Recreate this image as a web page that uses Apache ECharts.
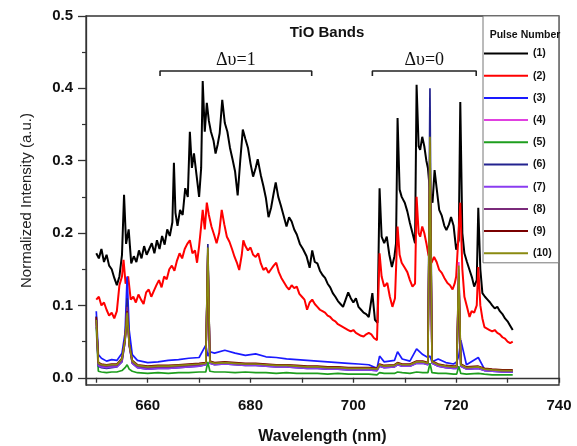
<!DOCTYPE html>
<html>
<head>
<meta charset="utf-8">
<script src="https://cdn.jsdelivr.net/npm/echarts@6/dist/echarts.min.js"></script>
<style>
  html, body { margin: 0; padding: 0; background: #ffffff; }
  #chart { width: 577px; height: 446px; }
</style>
</head>
<body>
<div id="chart"></div>
<script>
// Emission spectra of the TiO band region, normalized, for successive laser pulses.

const pulseNames = ['(1)', '(2)', '(3)', '(4)', '(5)', '(6)', '(7)', '(8)', '(9)', '(10)'];
const pulseColors = ['#000000', '#ff0000', '#1a1aff', '#e040e0', '#1e9e1e',
                     '#23238f', '#8a3cf0', '#7a2a7a', '#7a0000', '#8a8a10'];

// Pulse (1): [wavelength nm, intensity]
const pulse1 = [
  [650,0.172],[650.5,0.165],[651,0.178],[651.5,0.160],[652,0.170],[652.5,0.155],[653,0.150],
  [653.5,0.138],[654,0.128],[654.5,0.140],[655,0.170],[655.4,0.253],[655.8,0.185],[656.3,0.205],
  [656.8,0.158],[657.3,0.168],[657.8,0.160],[658.3,0.176],[658.8,0.165],[659.3,0.182],[659.8,0.170],
  [660.3,0.178],[660.8,0.186],[661.3,0.172],[661.8,0.190],[662.3,0.178],[662.8,0.196],[663.3,0.184],
  [663.8,0.205],[664.3,0.196],[664.8,0.215],[665.1,0.297],[665.4,0.228],[665.8,0.210],[666.3,0.232],
  [666.8,0.225],[667.3,0.262],[667.8,0.250],[668.2,0.340],[668.6,0.290],[669.0,0.310],[669.5,0.280],
  [670.0,0.250],[670.4,0.290],[670.7,0.410],[671.1,0.340],[671.5,0.380],[671.9,0.355],[672.3,0.340],
  [672.8,0.328],[673.2,0.310],[673.6,0.322],[674.0,0.338],[674.5,0.384],[675.0,0.352],[675.5,0.340],
  [676.0,0.318],[676.5,0.302],[677.0,0.285],[677.5,0.252],[678.0,0.300],[678.5,0.343],[679.0,0.330],
  [679.5,0.318],[680.0,0.296],[680.5,0.278],[681.0,0.290],[681.4,0.302],[682.0,0.280],[682.5,0.265],
  [683.0,0.248],[683.5,0.222],[684.0,0.235],[684.5,0.255],[684.9,0.270],[685.4,0.250],[685.9,0.238],
  [686.4,0.225],[687.0,0.209],[687.5,0.222],[688.0,0.216],[688.5,0.205],[689.0,0.198],[689.6,0.185],
  [690.2,0.178],[690.9,0.168],[691.5,0.152],[692.0,0.176],[692.5,0.160],[693.0,0.158],[693.5,0.148],
  [694.0,0.142],[694.5,0.138],[695.0,0.130],[695.5,0.125],[696.0,0.117],[696.5,0.112],[697.0,0.106],
  [697.5,0.102],[698.0,0.098],[698.5,0.108],[699.0,0.118],[699.5,0.110],[700.0,0.104],[700.5,0.110],
  [701.0,0.098],[701.5,0.094],[702.0,0.090],[702.5,0.088],[703.0,0.084],[703.7,0.117],[704.2,0.080],
  [704.7,0.076],[705.1,0.262],[705.5,0.195],[706.0,0.186],[706.5,0.195],[707.0,0.170],[707.5,0.153],
  [708.0,0.168],[708.3,0.186],[708.6,0.359],[709.0,0.260],[709.4,0.250],[710.0,0.242],[710.5,0.230],
  [711.0,0.214],[711.5,0.200],[712.0,0.186],[712.3,0.405],[712.7,0.320],[713.0,0.315],[713.4,0.333],
  [713.8,0.320],[714.2,0.300],[714.5,0.290],[715.0,0.250],[715.4,0.242],[715.8,0.287],[716.2,0.262],
  [716.7,0.232],[717.2,0.224],[717.7,0.210],[718.1,0.204],[718.6,0.212],[719.0,0.222],[719.5,0.210],
  [720.0,0.177],[720.5,0.190],[720.8,0.381],[721.2,0.200],[721.6,0.172],[722.1,0.160],[722.6,0.149],
  [723.1,0.138],[723.5,0.126],[724.0,0.135],[724.3,0.235],[724.7,0.150],[725.1,0.117],[725.6,0.112],
  [726.1,0.108],[726.6,0.104],[727.0,0.100],[727.5,0.096],[728.0,0.098],[728.5,0.092],[729.0,0.088],
  [729.5,0.082],[730.0,0.078],[730.5,0.072],[731.0,0.066]
];

// Pulse (2): [wavelength nm, intensity]
const pulse2 = [
  [650,0.108],[650.5,0.112],[651,0.100],[651.5,0.104],[652,0.094],[652.5,0.086],[653,0.090],
  [653.5,0.082],[654,0.092],[654.5,0.128],[655.0,0.140],[655.3,0.163],[655.7,0.130],[656.2,0.140],
  [656.7,0.108],[657.2,0.112],[657.7,0.104],[658.2,0.115],[658.7,0.108],[659.2,0.102],[659.7,0.118],
  [660.2,0.122],[660.7,0.112],[661.2,0.120],[661.7,0.128],[662.2,0.135],[662.7,0.125],[663.2,0.140],
  [663.7,0.136],[664.2,0.150],[664.7,0.155],[665.2,0.148],[665.7,0.162],[666.2,0.172],[666.7,0.165],
  [667.2,0.178],[667.7,0.185],[668.2,0.190],[668.7,0.172],[669.2,0.176],[669.6,0.159],[670.0,0.182],
  [670.4,0.210],[670.7,0.232],[671.1,0.205],[671.5,0.242],[671.9,0.225],[672.4,0.209],[672.9,0.198],
  [673.4,0.186],[673.9,0.200],[674.4,0.232],[674.9,0.212],[675.4,0.195],[675.9,0.188],[676.4,0.178],
  [676.9,0.167],[677.4,0.158],[677.8,0.149],[678.3,0.170],[678.6,0.190],[679.0,0.182],[679.5,0.176],
  [680.0,0.180],[680.5,0.170],[681.0,0.167],[681.5,0.172],[682.0,0.158],[682.5,0.149],[683.0,0.152],
  [683.5,0.145],[684.0,0.150],[684.5,0.155],[685.0,0.159],[685.5,0.146],[686.0,0.138],[686.5,0.132],
  [687.0,0.126],[687.5,0.122],[688.0,0.128],[688.5,0.124],[689.0,0.126],[689.5,0.116],[690.0,0.112],
  [690.5,0.108],[691.0,0.094],[691.5,0.104],[692.0,0.108],[692.5,0.102],[693.0,0.098],[693.5,0.094],
  [694.0,0.092],[694.5,0.090],[695.0,0.086],[695.5,0.084],[696.0,0.080],[696.5,0.078],[697.0,0.074],
  [697.5,0.072],[698.0,0.070],[698.5,0.068],[699.0,0.066],[699.5,0.064],[700.0,0.066],[700.5,0.062],
  [701.0,0.060],[701.5,0.058],[702.0,0.057],[702.5,0.060],[703.0,0.062],[703.5,0.060],[704.0,0.055],
  [704.6,0.052],[705.1,0.172],[705.5,0.140],[706.0,0.126],[706.6,0.131],[707.1,0.112],[707.6,0.098],
  [708.1,0.110],[708.6,0.209],[709.0,0.170],[709.4,0.159],[710.0,0.152],[710.5,0.146],[711.0,0.135],
  [711.5,0.126],[712.0,0.130],[712.3,0.250],[712.7,0.200],[713.0,0.195],[713.4,0.209],[713.8,0.200],
  [714.2,0.186],[714.6,0.170],[715.2,0.159],[715.7,0.167],[716.2,0.160],[716.7,0.149],[717.2,0.145],
  [717.7,0.138],[718.3,0.131],[718.8,0.128],[719.3,0.122],[719.7,0.130],[720.0,0.140],[720.8,0.242],
  [721.2,0.150],[721.6,0.112],[722.1,0.098],[722.6,0.084],[723.0,0.092],[723.5,0.090],[724.0,0.100],
  [724.3,0.153],[724.7,0.100],[725.1,0.082],[725.5,0.070],[726.0,0.068],[726.5,0.066],[727.0,0.064],
  [727.5,0.066],[728.0,0.062],[728.5,0.060],[729.0,0.056],[729.5,0.054],[730.0,0.050],[730.5,0.048],
  [731.0,0.050]
];

// Shared wavelength grid (nm) for the weaker pulses (3)-(10)
const lowWl = [650,650.4,651,652,653,654,655,655.6,656.0,656.4,657,658,660,662,664,666,668,670,
  671.3,671.7,672.1,673,675,677,679,681,683,685,687,689,691,693,695,697,699,701,703,704.6,705.1,
  706,708,708.6,709.5,711,712.3,713.5,714.5,714.9,715.3,716.5,718,719.5,720.1,720.5,720.9,722,
  724.3,725.5,727,729,731];

const pulse3 = [0.092,0.032,0.027,0.023,0.025,0.024,0.034,0.062,0.140,0.066,0.032,0.024,0.021,0.022,
  0.024,0.025,0.027,0.028,0.045,0.030,0.036,0.034,0.038,0.034,0.031,0.033,0.029,0.028,0.026,0.025,
  0.024,0.023,0.022,0.021,0.020,0.019,0.018,0.013,0.030,0.022,0.024,0.036,0.026,0.023,0.040,0.032,
  0.028,0.030,0.022,0.026,0.021,0.019,0.022,0.030,0.052,0.018,0.028,0.012,0.010,0.009,0.008];
const pulse4 = [0.080,0.018,0.016,0.015,0.016,0.016,0.024,0.052,0.100,0.045,0.021,0.015,0.013,0.014,
  0.014,0.015,0.016,0.017,0.019,0.165,0.021,0.019,0.020,0.019,0.018,0.018,0.017,0.016,0.016,0.015,
  0.014,0.014,0.013,0.013,0.012,0.012,0.012,0.011,0.017,0.015,0.016,0.019,0.017,0.017,0.021,0.021,
  0.019,0.300,0.021,0.017,0.015,0.014,0.014,0.160,0.017,0.013,0.014,0.011,0.010,0.009,0.009];
const pulse5 = [0.070,0.009,0.008,0.007,0.008,0.008,0.010,0.014,0.018,0.012,0.009,0.007,0.006,0.007,
  0.006,0.007,0.007,0.008,0.008,0.022,0.009,0.008,0.008,0.007,0.008,0.007,0.007,0.006,0.007,0.006,
  0.006,0.006,0.005,0.006,0.005,0.005,0.005,0.004,0.007,0.006,0.006,0.008,0.007,0.006,0.008,0.007,
  0.007,0.020,0.007,0.006,0.006,0.005,0.005,0.016,0.006,0.005,0.006,0.005,0.004,0.004,0.004];
const pulse6 = [0.085,0.016,0.014,0.013,0.014,0.015,0.022,0.050,0.110,0.048,0.020,0.014,0.012,0.013,
  0.013,0.014,0.015,0.016,0.018,0.185,0.020,0.018,0.019,0.018,0.017,0.017,0.016,0.015,0.015,0.014,
  0.013,0.013,0.012,0.012,0.011,0.011,0.011,0.010,0.016,0.014,0.015,0.018,0.016,0.016,0.020,0.020,
  0.018,0.400,0.020,0.016,0.014,0.013,0.013,0.120,0.016,0.012,0.013,0.010,0.009,0.008,0.008];
const pulse7 = [0.078,0.017,0.015,0.014,0.015,0.015,0.023,0.050,0.095,0.044,0.020,0.014,0.012,0.013,
  0.013,0.014,0.015,0.016,0.018,0.170,0.020,0.018,0.019,0.018,0.017,0.017,0.016,0.015,0.015,0.014,
  0.013,0.013,0.012,0.012,0.011,0.011,0.011,0.010,0.016,0.014,0.015,0.018,0.016,0.016,0.020,0.020,
  0.018,0.310,0.020,0.016,0.014,0.013,0.013,0.150,0.016,0.012,0.013,0.010,0.009,0.008,0.008];
const pulse8 = [0.082,0.019,0.017,0.016,0.017,0.017,0.025,0.052,0.098,0.046,0.022,0.016,0.014,0.015,
  0.015,0.016,0.017,0.018,0.020,0.175,0.022,0.020,0.021,0.020,0.019,0.019,0.018,0.017,0.017,0.016,
  0.015,0.015,0.014,0.014,0.013,0.013,0.013,0.012,0.018,0.016,0.017,0.020,0.018,0.018,0.022,0.022,
  0.020,0.320,0.022,0.018,0.016,0.015,0.015,0.145,0.018,0.014,0.015,0.012,0.011,0.010,0.010];
const pulse9 = [0.084,0.021,0.019,0.018,0.019,0.019,0.027,0.054,0.092,0.047,0.024,0.018,0.016,0.017,
  0.017,0.018,0.019,0.020,0.021,0.172,0.023,0.021,0.022,0.021,0.020,0.020,0.019,0.018,0.018,0.017,
  0.016,0.016,0.015,0.015,0.014,0.014,0.014,0.013,0.019,0.017,0.018,0.021,0.019,0.019,0.023,0.023,
  0.021,0.325,0.023,0.019,0.017,0.016,0.016,0.140,0.019,0.015,0.016,0.013,0.012,0.011,0.011];
const pulse10 = [0.080,0.020,0.018,0.017,0.018,0.018,0.026,0.052,0.090,0.046,0.023,0.017,0.015,0.016,
  0.016,0.017,0.018,0.019,0.020,0.180,0.022,0.020,0.021,0.020,0.019,0.019,0.018,0.017,0.017,0.016,
  0.015,0.015,0.014,0.014,0.013,0.013,0.013,0.012,0.018,0.016,0.017,0.020,0.018,0.018,0.022,0.022,
  0.020,0.333,0.022,0.018,0.016,0.015,0.015,0.155,0.018,0.014,0.015,0.012,0.011,0.010,0.010];

// Band-head brackets: [start nm, end nm] of each Δυ sequence, drawn at bracketLevel
const bandRanges = [[662.4, 691.9], [703.7, 723.9]];
const bandLabels = ['Δυ=1', 'Δυ=0'];
const bracketLevel = 0.424;
const bracketDrop = 0.007;

// Axis ticks
const xMajor = [660, 680, 700, 720, 740];
const xTicks = [650, 660, 670, 680, 690, 700, 710, 720, 730, 740];
const yMajor = [0, 0.1, 0.2, 0.3, 0.4, 0.5];
const yMinor = [0.05, 0.15, 0.25, 0.35, 0.45];

const zip = (xs, ys) => xs.map((x, i) => [x, ys[i]]);
const allPulses = [pulse1, pulse2,
  zip(lowWl, pulse3), zip(lowWl, pulse4), zip(lowWl, pulse5), zip(lowWl, pulse6),
  zip(lowWl, pulse7), zip(lowWl, pulse8), zip(lowWl, pulse9), zip(lowWl, pulse10)];

const chart = echarts.init(document.getElementById('chart'));
const sans = 'Liberation Sans, Arial, sans-serif';

const series = allPulses.map((d, i) => ({
  name: pulseNames[i],
  type: 'line',
  data: d,
  symbol: 'none',
  showSymbol: false,
  color: pulseColors[i],
  itemStyle: { color: pulseColors[i] },
  lineStyle: { width: i < 2 ? 2.0 : 1.7, color: pulseColors[i] },
  z: 2 + i,
  silent: true
}));

bandRanges.forEach((r, i) => {
  series.push({
    name: 'bracket' + i,
    type: 'line',
    data: [[r[0], bracketLevel - bracketDrop], [r[0], bracketLevel],
           [r[1], bracketLevel], [r[1], bracketLevel - bracketDrop]],
    symbol: 'none',
    lineStyle: { width: 1.6, color: '#222' },
    z: 20,
    silent: true,
    markPoint: {
      symbol: 'rect', symbolSize: 0,
      data: [{ coord: [(r[0] + r[1]) / 2, bracketLevel] }],
      label: {
        show: true, position: 'top', distance: 2,
        formatter: bandLabels[i],
        fontFamily: 'Liberation Serif, Times New Roman, serif',
        fontSize: 18, color: '#111'
      }
    }
  });
});

chart.setOption({
  animation: false,
  backgroundColor: '#ffffff',
  grid: { left: 86, right: 18, top: 16, bottom: 61, show: true, outerBoundsMode: 'none',
          borderColor: '#333', borderWidth: 1.3, backgroundColor: 'transparent' },
  title: [
    { text: 'TiO Bands', left: 322, top: 20, textAlign: 'center',
      textStyle: { fontFamily: sans, fontWeight: 'bold', fontSize: 15, color: '#111' } },
    { text: 'Pulse Number', left: 520, top: 25, textAlign: 'center', z: 10,
      textStyle: { fontFamily: sans, fontWeight: 'bold', fontSize: 10.5, color: '#111' } }
  ],
  legend: {
    data: pulseNames.map(n => ({ name: n, icon: 'rect' })),
    orient: 'vertical',
    left: 483, top: 16,
    padding: [32, 7, 4, 1],
    itemWidth: 44, itemHeight: 2, itemGap: 11.2,
    backgroundColor: '#ffffff',
    borderColor: '#777', borderWidth: 1,
    itemStyle: { borderWidth: 0 },
    textStyle: { fontFamily: sans, fontWeight: 'bold', fontSize: 10.5, color: '#111' },
    selectedMode: false,
    z: 8
  },
  xAxis: {
    type: 'value', min: 648, max: 740,
    name: 'Wavelength (nm)', nameLocation: 'middle', nameGap: 44,
    nameTextStyle: { fontFamily: sans, fontWeight: 'bold', fontSize: 16, color: '#111' },
    axisLine: { lineStyle: { color: '#333', width: 1.3 } },
    axisTick: { customValues: xTicks, length: 5, lineStyle: { color: '#333', width: 1.3 } },
    axisLabel: { customValues: xMajor, margin: 13,
      fontFamily: sans, fontWeight: 'bold', fontSize: 15, color: '#111' },
    splitLine: { show: false }
  },
  yAxis: [{
    type: 'value', min: -0.01, max: 0.5,
    name: 'Normalized Intensity (a.u.)', nameLocation: 'middle', nameGap: 52,
    nameTextStyle: { fontFamily: sans, fontSize: 15, color: '#222' },
    axisLine: { show: true, lineStyle: { color: '#333', width: 1.3 } },
    axisTick: { customValues: yMajor, length: 8, lineStyle: { color: '#333', width: 1.3 } },
    axisLabel: { customValues: yMajor, margin: 13, formatter: v => v.toFixed(1),
      fontFamily: sans, fontWeight: 'bold', fontSize: 15, color: '#111' },
    splitLine: { show: false }
  }, {
    type: 'value', min: -0.01, max: 0.5, position: 'left',
    axisLine: { show: false },
    axisTick: { show: true, customValues: yMinor, length: 4, lineStyle: { color: '#333', width: 1.2 } },
    axisLabel: { show: false },
    splitLine: { show: false }
  }],
  series: series
});
</script>
</body>
</html>
